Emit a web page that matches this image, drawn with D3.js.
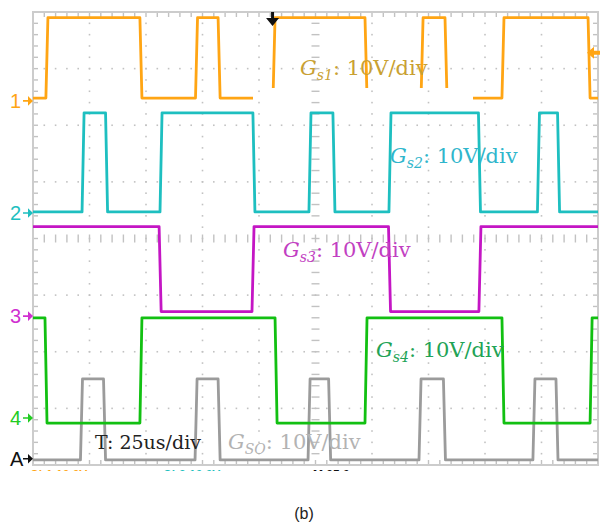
<!DOCTYPE html>
<html>
<head>
<meta charset="utf-8">
<script src="https://cdn.jsdelivr.net/npm/d3@7"></script>
<style>
  body { margin: 0; background: #fff; }
</style>
</head>
<body>
<div class="chart"></div>
<script>
var svgWidth = 608;
var svgHeight = 523;

var margin = { top: 12, right: 10, bottom: 58, left: 33 };
var width = svgWidth - margin.left - margin.right;
var height = svgHeight - margin.top - margin.bottom;

// scope settings: 10 div x 25us, 8 div x 10V
var timeRange = [0, 250];
var divRange = [-4, 4];
var voltsPerDiv = 10;
var edgeRamp = 0.9; // us

// channels
var channels = ["1", "2", "3", "4", "A"];
var colors = ["#ffa514", "#1ebfc0", "#c416c4", "#12c012", "#9b9b9b"];
var markerColors = ["#ffa514", "#1ebfc0", "#d030d0", "#22cc22", "#111111"];
var offsets = [2.43, 0.45, -1.37, -3.17, -3.89];   // div
var lowLevels = [0.5, 0.2, 0.8, -0.9, -0.2];       // V
var highLevels = [14.7, 17.7, 15.8, 17.7, 14.1];   // V
var startHigh = [false, false, true, true, false];

// switching instants (us)
var gs1Edges = [5.7, 47.3, 71.9, 81.9, 106.2, 146.9, 171.7, 182.3, 207.5, 245.6];
var gs2Edges = [21.7, 32.1, 56.2, 97.3, 122.1, 132.7, 157.5, 197.1, 223.2, 232.1];
var gs3Edges = [55.8, 96.9, 157.3, 197.3];
var gs4Edges = [5.3, 47.3, 107.1, 146.9, 207.5, 246.5];
var gsoEdges = [21.0, 31.2, 71.7, 81.9, 121.7, 130.8, 170.8, 181.6, 221.2, 231.4];
var allEdges = [gs1Edges, gs2Edges, gs3Edges, gs4Edges, gsoEdges];

var triggerTime = 106;
var triggerLevel = 8.5; // V on ch1

var labels = [
  { sub: "s1", text: ": 10V/div", color: "#c9a132", x: 300, y: 75 },
  { sub: "s2", text: ": 10V/div", color: "#2fb6cc", x: 390, y: 163 },
  { sub: "s3", text: ": 10V/div", color: "#c23fc2", x: 283, y: 257 },
  { sub: "s4", text: ": 10V/div", color: "#22a356", x: 376, y: 357 },
  { sub: "SO", text: ": 10V/div", color: "#b3b3b3", x: 228, y: 449 }
];

var svg = d3.select(".chart")
  .append("svg")
  .attr("width", svgWidth)
  .attr("height", svgHeight);

var chartGroup = svg.append("g")
  .attr("transform", `translate(${margin.left}, ${margin.top})`);

var x = d3.scaleLinear().domain(timeRange).range([0, width]);
var y = d3.scaleLinear().domain(divRange).range([height, 0]);

var gridColor = "#c2c2c2";
var minorT = d3.range(timeRange[0], timeRange[1] + 0.01, 5);
var minorV = d3.range(divRange[0], divRange[1] + 0.01, 0.2);
var majorT = d3.range(25, 250, 25);
var majorV = d3.range(-3, 4, 1);

var grid = chartGroup.append("g");

// dotted grid
majorT.filter(d => d !== 125).forEach(function(t) {
  grid.selectAll(null).data(minorV).enter().append("rect")
    .attr("x", x(t) - 0.8).attr("y", d => y(d) - 0.8)
    .attr("width", 1.6).attr("height", 1.6)
    .attr("fill", gridColor);
});
majorV.filter(d => d !== 0).forEach(function(v) {
  grid.selectAll(null).data(minorT).enter().append("rect")
    .attr("x", d => x(d) - 0.8).attr("y", y(v) - 0.8)
    .attr("width", 1.6).attr("height", 1.6)
    .attr("fill", gridColor);
});

// centre crosshair ticks
grid.selectAll(null).data(minorV).enter().append("line")
  .attr("x1", x(125) - 4).attr("x2", x(125) + 4)
  .attr("y1", d => y(d)).attr("y2", d => y(d))
  .attr("stroke", gridColor).attr("stroke-width", 1.4);
grid.selectAll(null).data(minorT).enter().append("line")
  .attr("x1", d => x(d)).attr("x2", d => x(d))
  .attr("y1", y(0) - 4).attr("y2", y(0) + 4)
  .attr("stroke", gridColor).attr("stroke-width", 1.4);

// border ticks
[0, width].forEach(function(bx, i) {
  grid.selectAll(null).data(minorV).enter().append("line")
    .attr("x1", bx).attr("x2", i ? bx - 5 : bx + 5)
    .attr("y1", d => y(d)).attr("y2", d => y(d))
    .attr("stroke", gridColor).attr("stroke-width", 1.4);
});
[0, height].forEach(function(by, i) {
  grid.selectAll(null).data(minorT).enter().append("line")
    .attr("y1", by).attr("y2", i ? by - 5 : by + 5)
    .attr("x1", d => x(d)).attr("x2", d => x(d))
    .attr("stroke", gridColor).attr("stroke-width", 1.4);
});

grid.append("rect")
  .attr("x", 0).attr("y", 0)
  .attr("width", width).attr("height", height)
  .attr("fill", "none")
  .attr("stroke", "#cccccc")
  .attr("stroke-width", 2);

// the Gs1 label hides part of the orange low level
var defs = svg.append("defs");
var mask = defs.append("mask").attr("id", "gs1mask")
  .attr("maskUnits", "userSpaceOnUse")
  .attr("x", -margin.left).attr("y", -margin.top)
  .attr("width", svgWidth).attr("height", svgHeight);
mask.append("rect").attr("x", -margin.left).attr("y", -margin.top)
  .attr("width", svgWidth).attr("height", svgHeight).attr("fill", "#fff");
mask.append("rect").attr("x", 220).attr("y", 76)
  .attr("width", 220).attr("height", 17).attr("fill", "#000");

function stepPoints(edges, lo, hi, startHi) {
  var pts = [];
  var level = startHi ? hi : lo;
  pts.push([timeRange[0], level]);
  edges.forEach(function(t) {
    pts.push([t, level]);
    level = level === hi ? lo : hi;
    pts.push([t + edgeRamp, level]);
  });
  pts.push([timeRange[1], level]);
  return pts;
}

var traces = chartGroup.append("g");
[4, 3, 2, 1, 0].forEach(function(ch) {
  var line = d3.line()
    .x(d => x(d[0]))
    .y(d => y(offsets[ch] + d[1] / voltsPerDiv));
  var p = traces.append("path")
    .datum(stepPoints(allEdges[ch], lowLevels[ch], highLevels[ch], startHigh[ch]))
    .attr("d", line)
    .attr("fill", "none")
    .attr("stroke", colors[ch])
    .attr("stroke-width", 2.8)
    .attr("stroke-linejoin", "round");
  if (ch === 0) p.attr("mask", "url(#gs1mask)");
});

// channel markers
var markers = svg.append("g");
channels.forEach(function(c, i) {
  var my = margin.top + y(offsets[i]);
  markers.append("text")
    .attr("x", 10).attr("y", my + 7)
    .attr("font-family", "Liberation Sans, Arial, sans-serif")
    .attr("font-size", 20)
    .attr("fill", markerColors[i])
    .text(c);
  markers.append("path")
    .attr("d", `M23,${my - 0.8}h5v-4l5,4.8l-5,4.8v-4h-5z`)
    .attr("fill", markerColors[i]);
});

// trigger position and level
svg.append("path")
  .attr("d", function() {
    var tx = margin.left + x(triggerTime);
    return `M${tx - 1.5},${margin.top}v6h-5l6.5,8l6.5,-8h-5v-6z`;
  })
  .attr("fill", "#111");
svg.append("path")
  .attr("d", function() {
    var ty = margin.top + y(offsets[0] + triggerLevel / voltsPerDiv);
    var rx = margin.left + width;
    return `M${rx - 11},${ty}l7,-6v4h6v4h-6v4z`;
  })
  .attr("fill", colors[0]);

// annotations
var ann = svg.append("g")
  .attr("font-family", "DejaVu Serif, serif")
  .attr("font-size", 21);

labels.forEach(function(l) {
  var t = ann.append("text").attr("x", l.x).attr("y", l.y).attr("fill", l.color);
  t.append("tspan").attr("font-style", "italic").text("G");
  t.append("tspan").attr("font-style", "italic").attr("font-size", 14)
    .attr("dy", 5).text(l.sub);
  t.append("tspan").attr("dy", -5).text(l.text);
});

ann.append("text")
  .attr("x", 95).attr("y", 449)
  .attr("fill", "#222")
  .attr("font-size", 19)
  .text("T: 25us/div");

// status line cut off by the crop
defs.append("clipPath").attr("id", "statusclip")
  .append("rect").attr("x", 0).attr("y", margin.top + height + 2)
  .attr("width", svgWidth).attr("height", 4);
var statusGroup = svg.append("g").attr("clip-path", "url(#statusclip)")
  .attr("font-family", "Liberation Sans, Arial, sans-serif")
  .attr("font-size", 12).attr("font-weight", "bold");
statusGroup.append("text").attr("x", 30).attr("y", 479).attr("fill", colors[0]).text("Ch1  10.0V");
statusGroup.append("text").attr("x", 163).attr("y", 479).attr("fill", colors[1]).text("Ch2  10.0V");
statusGroup.append("text").attr("x", 313).attr("y", 479).attr("fill", "#111").text("M 25.0\u03bcs");

svg.append("text")
  .attr("x", 304).attr("y", 519)
  .attr("text-anchor", "middle")
  .attr("font-family", "Liberation Sans, Arial, sans-serif")
  .attr("font-size", 16)
  .attr("fill", "#222")
  .text("(b)");
</script>
</body>
</html>
